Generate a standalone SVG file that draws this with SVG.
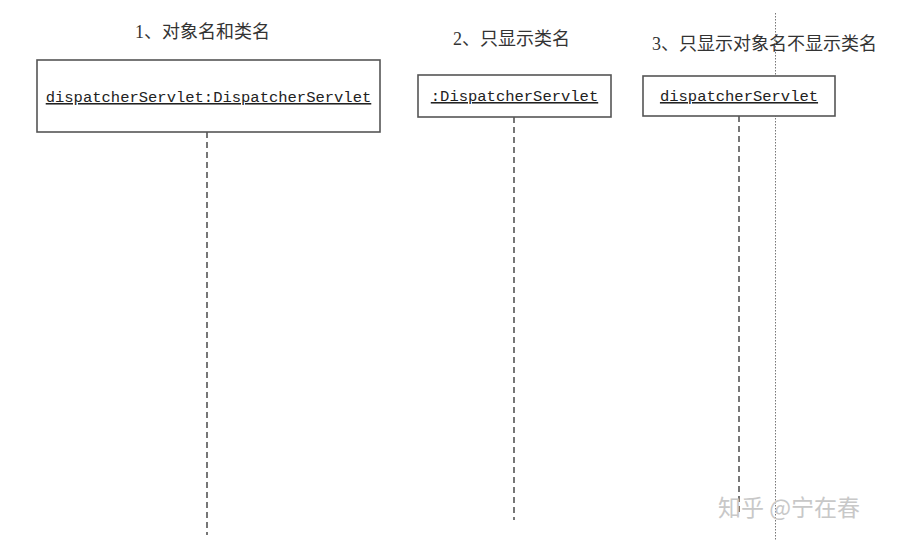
<svg xmlns="http://www.w3.org/2000/svg" width="921" height="540" viewBox="0 0 921 540">
<style>
.box{fill:#fff;stroke:#555;stroke-width:1.6}
.name{font-family:"Liberation Mono","DejaVu Sans Mono",monospace;font-size:15.5px;fill:#222;text-anchor:middle;text-decoration:underline}
.title{font-family:"Liberation Serif","Noto Sans CJK SC",serif;font-size:18px;fill:#333}
.life{stroke:#555;stroke-width:1.6;stroke-dasharray:6 4;fill:none}
.dot{stroke:#777;stroke-width:1;stroke-dasharray:1.5 1.5;fill:none}
.wm{font-family:"Noto Sans CJK SC",sans-serif;font-size:23px;fill:#c8c8c8}
</style>
<rect width="921" height="540" fill="#fff"/>
<text class="title" x="135" y="38">1、对象名和类名</text>
<text class="title" x="453" y="45">2、只显示类名</text>
<text class="title" x="652" y="50">3、只显示对象名不显示类名</text>
<g id="connectors">
<line class="life" x1="207" y1="132" x2="207" y2="535"/>
<line class="life" x1="514" y1="117" x2="514" y2="520"/>
<line class="life" x1="739" y1="116" x2="739" y2="515"/>
<line class="dot" x1="775.5" y1="13" x2="775.5" y2="540"/>
</g>
<g id="node1">
<rect class="box" x="37" y="60" width="343" height="72"/>
<text class="name" x="208.5" y="102">dispatcherServlet:DispatcherServlet</text>
</g>
<g id="node2">
<rect class="box" x="418" y="75" width="193" height="42"/>
<text class="name" x="514.5" y="101">:DispatcherServlet</text>
</g>
<g id="node3">
<rect class="box" x="643" y="76" width="192" height="40"/>
<text class="name" x="739" y="101">dispatcherServlet</text>
</g>
<text class="wm" x="718" y="516">知乎 @宁在春</text>
</svg>
